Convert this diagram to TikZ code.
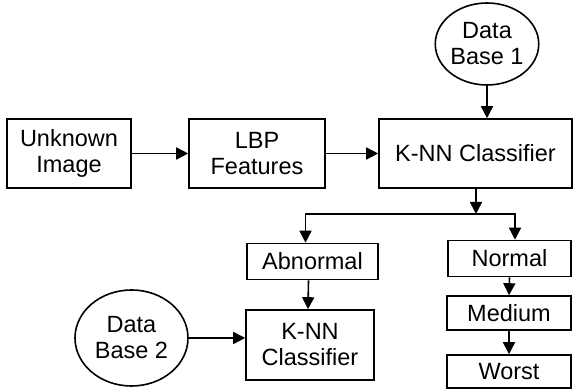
\documentclass[tikz,border=0pt]{standalone}
\usepackage{fontspec}
\setmainfont{Liberation Sans}
\usetikzlibrary{arrows.meta,shapes.geometric}
\begin{document}
\begin{tikzpicture}[x=1pt, y=1pt,
		font=\fontsize{23.5}{26}\selectfont,
		b/.style = {rectangle, draw, line width=1.6pt, align=center, inner sep=0pt, minimum height=69},
		sb/.style = {rectangle, draw, line width=1.6pt, align=center, inner sep=0pt, minimum height=36},
		db/.style = {ellipse, draw, line width=1.6pt, align=center, inner sep=0pt},
		r/.style = {-{Triangle[length=12pt, width=12pt]}, line width=1.6pt}
		]
		\useasboundingbox (0,0) rectangle (573,390);
		
		%Nodes
		\node[b, minimum width=124]	(unk)	at (69, 236.5)		{Unknown\\Image};
		\node[b, minimum width=136]	(lbp)	at (257, 236.5)		{LBP\\Features};
		\node[b, minimum width=193]	(knn1)	at (475.5, 236.5)	{K-NN Classifier};
		\node[db, minimum width=102, minimum height=82]	(db1)	at (487, 346)	{Data\\Base 1};
		\node[sb, minimum width=131]	(abn)	at (312.5, 128.5)	{Abnormal};
		\node[sb, minimum width=123]	(norm)	at (509.5, 131.5)	{Normal};
		\node[sb, minimum width=124, minimum height=34]	(med)	at (509, 77)	{Medium};
		\node[sb, minimum width=124, minimum height=33]	(worst)	at (509, 18.5)	{Worst};
		\node[b, minimum width=128, minimum height=70]	(knn2)	at (310, 45)	{K-NN\\Classifier};
		\node[db, minimum width=113, minimum height=96]	(db2)	at (131.5, 52)	{Data\\Base 2};
		\coordinate (split) at (476, 176);
		
		%Lines
		\draw[r] (unk.east) -- (lbp.west);
		\draw[r] (lbp.east) -- (knn1.west);
		\draw[r] (db1.south) -- (db1.south |- knn1.north);
		\draw[r] (knn1.south -| split) -- (split);
		\draw[r] (split) -| ([xshift=-7]abn.north);
		\draw[r] (split) -| ([xshift=5.5]norm.north);
		\draw[r] (norm.south) -- (med.north);
		\draw[r] (med.south) -- (worst.north);
		\draw[r] ([xshift=-4]abn.south) -- ([xshift=-2]knn2.north);
		\draw[r] (db2.east) -- (db2.east -| knn2.west);
		
	\end{tikzpicture}
\end{document}
